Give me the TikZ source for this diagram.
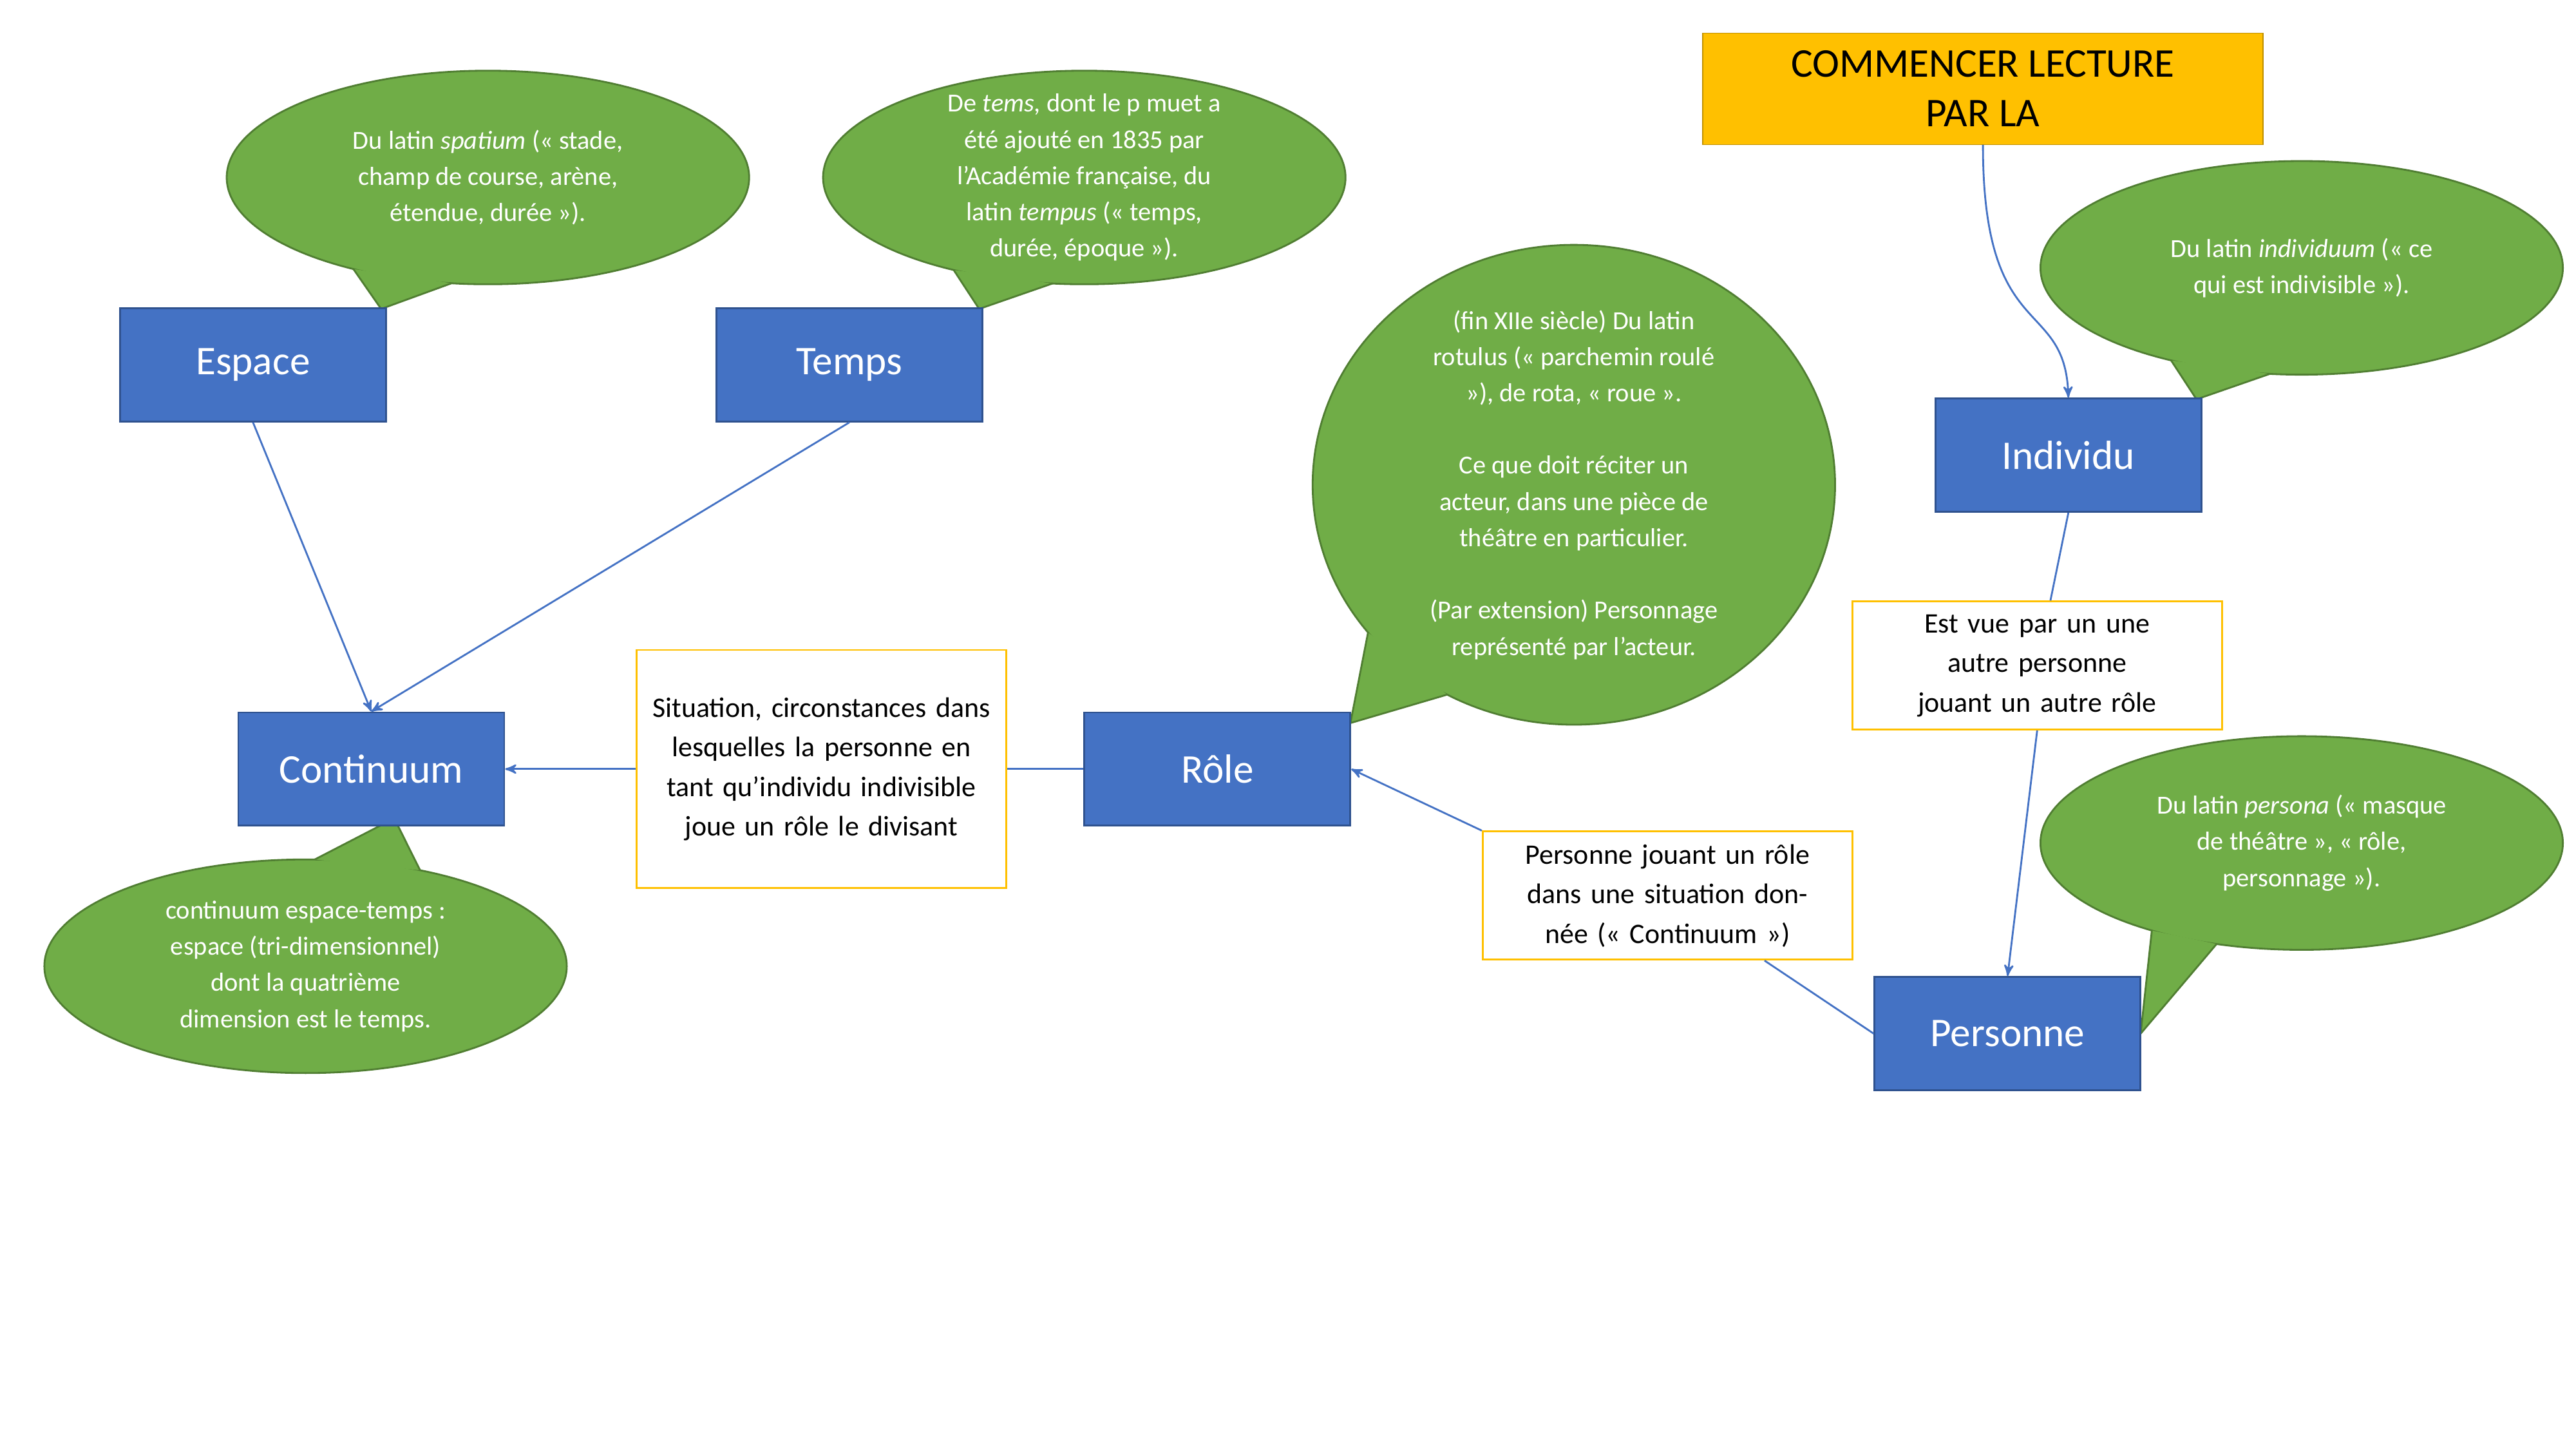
\documentclass[tikz,border=0pt]{standalone}
\usepackage{fontspec}
\setmainfont{Carlito}
\usetikzlibrary{arrows,positioning}
\definecolor{boxblue}{HTML}{4472C4}
\definecolor{boxblueline}{HTML}{2F528F}
\definecolor{callgreen}{HTML}{70AD47}
\definecolor{callgreenline}{HTML}{507E32}
\definecolor{gold}{HTML}{FFC000}
\definecolor{goldline}{HTML}{BF9000}
% callout: center, rx, ry, base angle 1, base angle 2, tip
\newcommand{\bulle}[6]{%
  \filldraw[callgreen,draw=callgreenline,thick] (#1) ellipse [x radius=#2,y radius=#3];
  \fill[callgreen] (#1) ++(#4:#2 and #3) -- (#6) -- ($(#1)+(#5:#2 and #3)$) -- cycle;
  \draw[callgreenline,thick] (#1) ++(#4:#2 and #3) -- (#6) -- ($(#1)+(#5:#2 and #3)$);
}
\usetikzlibrary{calc}
\begin{document}
\begin{tikzpicture}[x=0.02551cm,y=-0.02551cm,>=stealth']

    \tikzstyle{concept}=[rectangle,draw=boxblueline,thick,fill=boxblue,text=white,minimum width=4.13cm,minimum height=1.76cm,font=\fontsize{18}{22}\selectfont]
    \tikzstyle{note}=[rectangle,draw=gold,thick,fill=white,text width=5.4cm,align=center,minimum width=5.74cm,font=\fontsize{12.5}{17.5}\selectfont]
    \tikzstyle{bulletext}=[text=white,align=center,font=\fontsize{11.5}{16}\selectfont]
    \tikzstyle{link}=[draw=boxblue,thick]

    \useasboundingbox (0,0) rectangle (1568,882);

    % bulles
    \bulle{297,108}{159}{65}{121}{98}{232,188}
    \node[bulletext] (b1) at (297,108) {Du latin \textit{spatium} (« stade,\\champ de course, arène,\\étendue, durée »).};
    \bulle{660,108}{159}{65}{120}{97}{596,188}
    \node[bulletext] (b2) at (660,108) {De \textit{tems}, dont le p muet a\\été ajouté en 1835 par\\l’Académie française, du\\latin \textit{tempus} (« temps,\\durée, époque »).};
    \bulle{958,295}{159}{146}{142}{119}{822,440}
    \node[bulletext] (b3) at (958,295) {(fin XIIe siècle) Du latin\\rotulus (« parchemin roulé\\»), de rota, « roue ».\\[16pt]Ce que doit réciter un\\acteur, dans une pièce de\\théâtre en particulier.\\[16pt](Par extension) Personnage\\représenté par l’acteur.};
    \bulle{1401,163}{159}{65}{120}{97}{1337,243}
    \node[bulletext] (b4) at (1401,163) {Du latin \textit{individuum} (« ce\\qui est indivisible »).};
    \bulle{1401,513}{159}{65}{125}{109}{1303,629}
    \node[bulletext] (b5) at (1401,513) {Du latin \textit{persona} (« masque\\de théâtre », « rôle,\\personnage »).};
    \bulle{186,588}{159}{65}{-88}{-64}{240,498}
    \node[bulletext] (b6) at (186,588) {continuum espace-temps :\\espace (tri-dimensionnel)\\dont la quatrième\\dimension est le temps.};

    % concepts
    \node[concept] (espace) at (154,222) {Espace};
    \node[concept] (temps) at (517,222) {Temps};
    \node[concept] (continuum) at (226,468) {Continuum};
    \node[concept] (role) at (741,468) {Rôle};
    \node[concept] (individu) at (1259,277) {Individu};
    \node[concept] (personne) at (1222,629) {Personne};
    \node[rectangle,draw=goldline,fill=gold,minimum width=8.7cm,minimum height=1.73cm,align=center,font=\fontsize{18}{22}\selectfont] (debut) at (1207,54) {COMMENCER LECTURE\\PAR LA};

    % notes
    \node[note,minimum height=3.7cm] (situation) at (500,468) {Situation, circonstances dans lesquelles la personne en tant qu’individu indivisible joue un rôle le divisant};
    \node[note,minimum height=1.99cm] (vue) at (1240,405) {Est vue par un une autre personne jouant un autre rôle};
    \node[note,minimum height=1.99cm] (jouant) at (1015,545) {Personne jouant un rôle dans une situation donnée (« Continuum »)};

    % liens
    \draw[link,->] (espace.south) -- (continuum.north);
    \draw[link,->] (temps.south) -- (continuum.north);
    \draw[link] (role.west) -- (situation.east);
    \draw[link,->] (situation.west) -- (continuum.east);
    \draw[link] (personne.west) -- (jouant);
    \draw[link,->] (jouant.north west) -- (role.east);
    \draw[link] (individu.south) -- (vue);
    \draw[link,->] (vue.south) -- (personne.north);
    \draw[link,->] (debut.south) .. controls (1207,210) and (1257,180) .. (individu.north);

\end{tikzpicture}
\end{document}
